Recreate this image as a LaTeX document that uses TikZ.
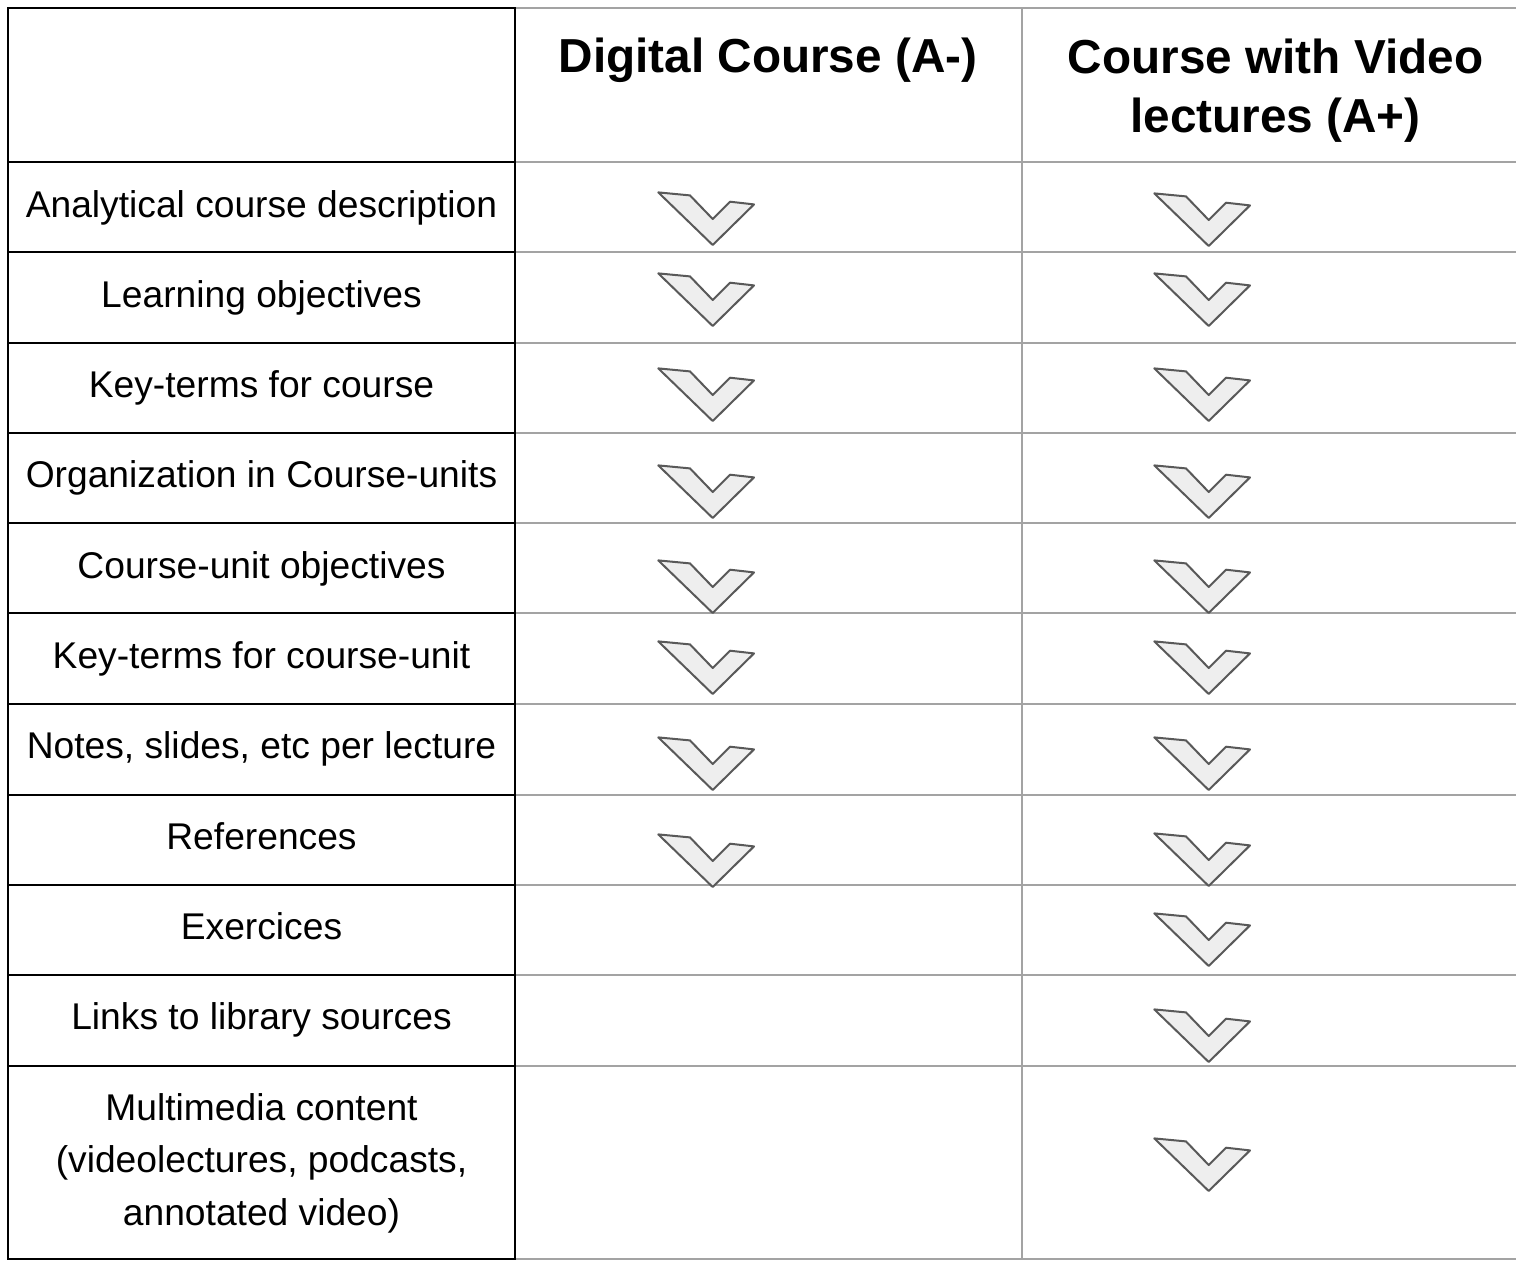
\documentclass[tikz,border=0pt]{standalone}
\usepackage{fontspec}
\setmainfont{Liberation Sans}
\definecolor{gridgray}{HTML}{A3A3A3}
\definecolor{checkfill}{HTML}{EEEEEE}
\definecolor{checkline}{HTML}{595959}
\tikzset{
  blackrule/.style={line width=2pt, draw=black},
  grayrule/.style={line width=2pt, draw=gridgray},
  bodytext/.style={font=\fontsize{37.2}{52.5}\selectfont, align=center, anchor=base, inner sep=0pt},
  headtext/.style={font=\fontsize{47.7}{59.5}\selectfont\bfseries, align=center, anchor=base, inner sep=0pt},
  checkshape/.style={fill=checkfill, draw=checkline, line width=2pt, line join=round}
}
\newcommand{\checkmarkat}[2]{%
  \draw[checkshape] (#1,#2) -- ++(-54.4,-52.6) -- ++(31.7,3.0) -- ++(22.7,23.6) -- ++(17.3,-17.3) -- ++(24.0,2.7) -- cycle;%
}
\begin{document}
\begin{tikzpicture}[x=1pt,y=-1pt]
\useasboundingbox (0,0) rectangle (1516,1261);
\fill[white] (0,0) rectangle (1516,1261);
% gray grid lines (right part)
\foreach \yy in {8,162,252,343,433,523,613,704,795,885,975,1066,1259}
  {\draw[grayrule] (515,\yy) -- (1516,\yy);}
\draw[grayrule] (1022,8) -- (1022,1259);
% black grid lines (left column)
\foreach \yy in {8,162,252,343,433,523,613,704,795,885,975,1066,1259}
  {\draw[blackrule] (8,\yy) -- (515,\yy);}
\draw[blackrule] (8,7) -- (8,1260);
\draw[blackrule] (515,7) -- (515,1260);
% header
\node[headtext] (h1) at (768,72) {Digital Course (A-)};
\node[headtext] (h2a) at (1275.5,73) {Course with Video};
\node[headtext] (h2b) at (1275.5,132) {lectures (A+)};
% row labels
\node[bodytext] (r1) at (261.5,217) {Analytical course description};
\node[bodytext] (r2) at (261.5,307) {Learning objectives};
\node[bodytext] (r3) at (261.5,397) {Key-terms for course};
\node[bodytext] (r4) at (261.5,487) {Organization in Course-units};
\node[bodytext] (r5) at (261.5,578) {Course-unit objectives};
\node[bodytext] (r6) at (261.5,668) {Key-terms for course-unit};
\node[bodytext] (r7) at (261.5,758) {Notes, slides, etc per lecture};
\node[bodytext] (r8) at (261.5,849) {References};
\node[bodytext] (r9) at (261.5,939) {Exercices};
\node[bodytext] (r10) at (261.5,1029) {Links to library sources};
\node[bodytext] (r11a) at (261.5,1120) {Multimedia content};
\node[bodytext] (r11b) at (261.5,1172) {(videolectures, podcasts,};
\node[bodytext] (r11c) at (261.5,1225) {annotated video)};
% checkmarks column A-
\foreach \yy in {245,326,421,518,613,694,790,887}
  {\checkmarkat{712.7}{\yy}}
% checkmarks column A+
\foreach \yy in {246,326,421,518,613,694,790,886,966,1062,1191}
  {\checkmarkat{1208.7}{\yy}}
\end{tikzpicture}
\end{document}
